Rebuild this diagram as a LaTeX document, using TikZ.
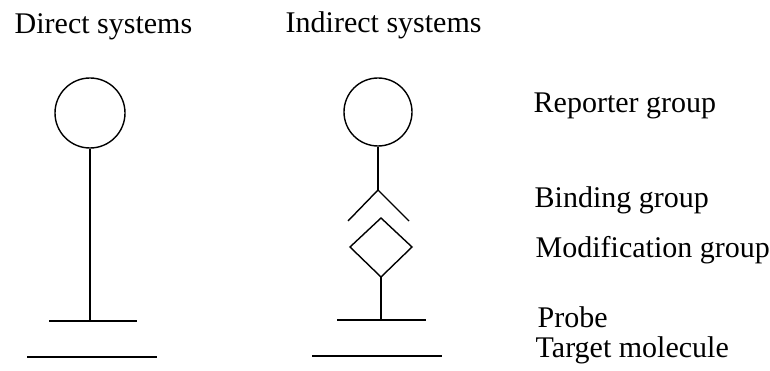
\documentclass[tikz,border=0pt]{standalone}
\usepackage{fontspec}
\setmainfont{Liberation Serif}
\begin{document}
\begin{tikzpicture}[x=1pt,y=-1pt,line width=1.4pt,
  lbl/.style={anchor=base west,inner sep=0pt,font=\fontsize{30}{32}\selectfont},
  ring/.style={circle,draw,inner sep=0pt,minimum size=#1},
  pt/.style={coordinate}]
\useasboundingbox (0,0) rectangle (770,371);
% titles
\node[lbl] (tdir) at (14,34) {Direct systems};
\node[lbl] (tind) at (285,33) {Indirect systems};
% direct system
\node[ring=70pt] (c1) at (90,113) {};
\coordinate (p1) at (90,321);
\coordinate (p1l) at (49,321);
\coordinate (p1r) at (137,321);
\coordinate (t1l) at (27,357);
\coordinate (t1r) at (157,357);
\draw (c1.south) -- (p1);
\draw (p1l) -- (p1r);
\draw (t1l) -- (t1r);
% indirect system
\node[ring=68pt] (c2) at (378,112) {};
\coordinate (apex) at (378,190);
\coordinate (bl) at (348,221);
\coordinate (br) at (409,221);
\coordinate (dt) at (381,218);
\coordinate (dl) at (350,247);
\coordinate (dr) at (412,247);
\coordinate (db) at (381,277);
\coordinate (p2) at (381,320);
\coordinate (p2l) at (337,320);
\coordinate (p2r) at (426,320);
\coordinate (t2l) at (312,356);
\coordinate (t2r) at (442,356);
\draw (c2.south) -- (apex);
\draw (bl) -- (apex) -- (br);
\draw (dt) -- (dr) -- (db) -- (dl) -- cycle;
\draw (db) -- (p2);
\draw (p2l) -- (p2r);
\draw (t2l) -- (t2r);
% labels
\node[lbl] (lrep) at (533,113) {Reporter group};
\node[lbl] (lbind) at (534,208) {Binding group};
\node[lbl] (lmod) at (535,258) {Modification group};
\node[lbl] (lprobe) at (537,327) {Probe};
\node[lbl] (ltarget) at (535,357) {Target molecule};
\end{tikzpicture}
\end{document}
